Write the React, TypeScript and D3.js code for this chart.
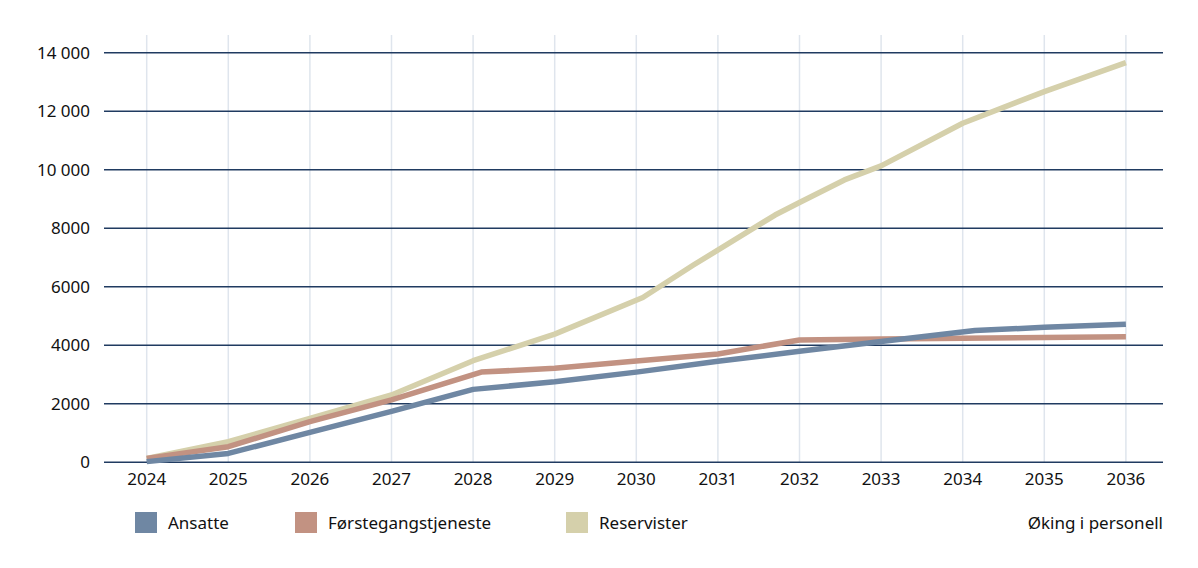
import React from "react";
import * as d3 from "d3";

const years = [2024, 2025, 2026, 2027, 2028, 2029, 2030, 2031, 2032, 2033, 2034, 2035, 2036];
const yTicks = [0, 2000, 4000, 6000, 8000, 10000, 12000, 14000];

const ansatteX = [2024, 2025, 2026, 2027, 2028, 2029, 2030, 2031, 2032, 2033, 2034.15, 2035, 2036];
const ansatteY = [20, 300, 1020, 1740, 2490, 2750, 3080, 3450, 3790, 4130, 4500, 4610, 4720];

const forsteX = [2024, 2025, 2026, 2027, 2028.1, 2029, 2030, 2031, 2032, 2033, 2034, 2035, 2036];
const forsteY = [130, 530, 1390, 2130, 3080, 3210, 3460, 3700, 4180, 4210, 4240, 4265, 4290];

const reservX = [2024, 2025, 2026, 2027, 2028, 2029, 2030.08, 2030.7, 2031.7, 2032, 2032.55, 2033, 2034, 2035, 2036];
const reservY = [130, 700, 1500, 2300, 3470, 4380, 5630, 6740, 8450, 8880, 9650, 10130, 11590, 12670, 13660];

const seriesNames = ["Ansatte", "Førstegangstjeneste", "Reservister"];
const seriesColors = ["#6f87a3", "#c29282", "#d5d0ab"];

const FONT = "'Noto Sans', sans-serif";

export default function App() {
  const x = d3.scaleLinear().domain([2024, 2036]).range([146.7, 1125.9]);
  const y = d3.scaleLinear().domain([0, 14000]).range([462.2, 52.7]);
  const line = d3
    .line<[number, number]>()
    .x((d) => x(d[0]))
    .y((d) => y(d[1]));

  const series = [
    { name: seriesNames[0], color: seriesColors[0], pts: ansatteX.map((v, i) => [v, ansatteY[i]] as [number, number]) },
    { name: seriesNames[1], color: seriesColors[1], pts: forsteX.map((v, i) => [v, forsteY[i]] as [number, number]) },
    { name: seriesNames[2], color: seriesColors[2], pts: reservX.map((v, i) => [v, reservY[i]] as [number, number]) },
  ];
  const drawOrder = [2, 1, 0];

  const fmt = (v: number) => (v >= 10000 ? d3.format(",")(v).replace(/,/g, "\u00a0") : String(v));

  const legendX = [135, 295, 566];

  return (
    <svg
      width={1198}
      height={568}
      style={{ position: "absolute", left: 0, top: 0, background: "#fff" }}
      fontFamily={FONT}
    >
      {years.map((yr) => (
        <line key={"v" + yr} x1={x(yr)} x2={x(yr)} y1={35} y2={462} stroke="#dfe5ed" strokeWidth={1.5} />
      ))}
      {yTicks.map((t) => (
        <g key={"h" + t}>
          <line x1={104} x2={1163} y1={y(t)} y2={y(t)} stroke="#203b61" strokeWidth={1.5} />
          <text x={90} y={y(t)} dy="0.35em" textAnchor="end" fontSize={17} fill="#111">
            {fmt(t)}
          </text>
        </g>
      ))}
      {years.map((yr) => (
        <text key={"xl" + yr} x={x(yr)} y={485} textAnchor="middle" fontSize={17} fill="#111">
          {yr}
        </text>
      ))}
      {drawOrder.map((i) => (
        <path
          key={series[i].name}
          d={line(series[i].pts) || ""}
          fill="none"
          stroke={series[i].color}
          strokeWidth={5.5}
          strokeLinejoin="round"
          strokeLinecap="butt"
        />
      ))}
      {series.map((s, i) => (
        <g key={"lg" + i}>
          <rect x={legendX[i]} y={512} width={22} height={21} fill={s.color} />
          <text x={legendX[i] + 33} y={529} fontSize={17} fill="#111">
            {s.name}
          </text>
        </g>
      ))}
      <text x={1163} y={529} textAnchor="end" fontSize={17} fill="#111">
        Øking i personell
      </text>
    </svg>
  );
}
